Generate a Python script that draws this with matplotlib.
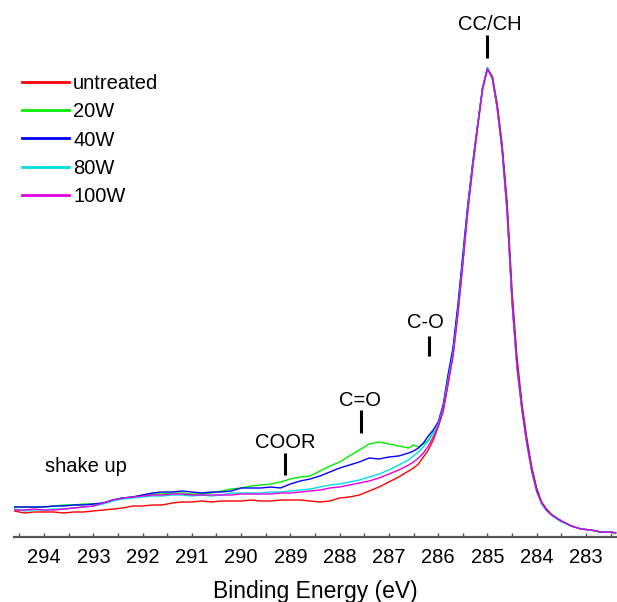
import matplotlib
matplotlib.use("Agg")
import matplotlib.pyplot as plt
import numpy as np

plt.rcParams['font.family'] = ['Liberation Sans', 'DejaVu Sans']

# Binding energy grid (eV)
energy = [294.6, 294.4, 294.2, 294.0, 293.8, 293.6, 293.4, 293.2, 293.0, 292.8,
          292.6, 292.4, 292.2, 292.0, 291.8, 291.6, 291.4, 291.2, 291.0, 290.8,
          290.6, 290.4, 290.2, 290.0, 289.8, 289.6, 289.4, 289.2, 289.0, 288.8,
          288.6, 288.4, 288.2, 288.0, 287.8, 287.6, 287.4, 287.2, 287.0, 286.8,
          286.6, 286.5, 286.4, 286.3, 286.2, 286.1, 286.0, 285.9, 285.8, 285.7,
          285.6, 285.5, 285.4, 285.3, 285.2, 285.1, 285.0, 284.9, 284.8, 284.7,
          284.6, 284.5, 284.4, 284.3, 284.2, 284.1, 284.0, 283.9, 283.8, 283.7,
          283.6, 283.5, 283.3, 283.1, 282.9, 282.7, 282.5, 282.4]

# Intensities (a.u.)
untreated = [26, 24, 25, 25, 25, 24, 25, 25, 26, 27,
             28, 29, 31, 31, 32, 32, 34, 35, 35, 36,
             35, 36, 36, 36, 37, 36, 36, 37, 37, 37,
             36, 35, 36, 39, 40, 42, 46, 50, 55, 60,
             66, 69, 73, 80, 87, 97, 110, 125, 152, 182,
             225, 275, 327, 370, 410, 448, 468, 461, 433, 392,
             335, 247, 180, 134, 99, 70, 49, 35, 28, 23,
             19, 16, 11, 8, 7, 5, 5, 4]
w20 = [30, 30, 30, 30, 31, 32, 32, 33, 33, 34,
       37, 39, 40, 42, 43, 43, 44, 44, 43, 43,
       44, 46, 48, 49, 51, 52, 53, 55, 58, 60,
       61, 66, 71, 75, 81, 87, 93, 95, 93, 91,
       89, 92, 90, 93, 97, 105, 113, 130, 160, 186,
       229, 279, 330, 373, 411, 449, 469, 460, 430, 388,
       328, 238, 172, 129, 95, 67, 47, 34, 27, 23,
       19, 16, 11, 8, 7, 5, 5, 4]
w40 = [30, 30, 30, 30, 31, 31, 32, 32, 33, 34,
       37, 39, 40, 42, 44, 45, 45, 46, 45, 44,
       45, 45, 46, 49, 49, 49, 50, 49, 53, 56,
       58, 61, 65, 69, 72, 75, 79, 78, 80, 81,
       84, 86, 89, 94, 101, 107, 115, 132, 162, 189,
       232, 282, 332, 374, 412, 449, 469, 459, 429, 387,
       327, 237, 172, 129, 95, 67, 47, 34, 27, 22,
       19, 16, 11, 8, 7, 5, 5, 4]
w80 = [28, 26, 27, 27, 28, 28, 29, 30, 31, 33,
       36, 38, 39, 40, 41, 41, 42, 42, 41, 42,
       41, 42, 44, 44, 44, 44, 45, 45, 46, 47,
       48, 50, 52, 53, 55, 57, 60, 63, 67, 72,
       77, 81, 85, 90, 96, 104, 113, 129, 157, 183,
       225, 275, 328, 371, 410, 448, 469, 458, 427, 384,
       323, 233, 168, 126, 92, 65, 45, 33, 26, 22,
       18, 15, 11, 8, 7, 5, 5, 4]
w100 = [27, 27, 28, 27, 27, 28, 29, 30, 31, 34,
        37, 39, 40, 41, 42, 42, 43, 43, 42, 42,
        42, 42, 42, 43, 43, 43, 43, 44, 44, 45,
        46, 47, 49, 50, 52, 54, 56, 59, 63, 67,
        72, 75, 79, 84, 91, 100, 111, 127, 154, 180,
        222, 272, 325, 369, 409, 447, 468, 459, 429, 387,
        326, 236, 171, 128, 94, 66, 46, 34, 27, 22,
        19, 16, 11, 8, 7, 5, 5, 4]

series = [untreated, w20, w40, w80, w100]
labels = ["untreated", "20W", "40W", "80W", "100W"]
colors = ["#ff0000", "#00ee00", "#0000ff", "#00e0e0", "#e000e0"]

# peak assignments: label, text position, tick position and extent
peak_labels = ["CC/CH", "C-O", "C=O", "COOR"]
peak_text_e = [284.96, 286.25, 287.59, 289.11]
peak_text_h = [512, 214, 136, 94]
peak_tick_e = [285.0, 286.18, 287.57, 289.11]
peak_tick = [(479, 502), (181, 201), (104, 127), (62, 84)]

fig = plt.figure(figsize=(6.17, 6.02), dpi=100)
ax = fig.add_axes([14 / 617, 65 / 602, 603 / 617, 537 / 602])

for y, lab, c in zip(series, labels, colors):
    ax.plot(energy, y, color=c, lw=1.0, label=lab)

for lab, te, th, e, (t0, t1) in zip(peak_labels, peak_text_e, peak_text_h,
                                     peak_tick_e, peak_tick):
    ax.text(te, th, lab, ha='center', va='center', fontsize=14.5)
    ax.plot([e, e], [t0, t1], color='black', lw=2.2, solid_capstyle='butt')

ax.text(293.98, 71, "shake up", ha='left', va='center', fontsize=14.5)

ax.set_xlim(294.61, 282.37)
ax.set_ylim(0, 537)
ax.set_xticks(np.arange(283, 295, 1))
ax.set_xticks(np.arange(282.5, 295, 0.5), minor=True)
ax.tick_params(axis='x', which='both', direction='in', length=3, width=1,
               color='#555555', labelsize=14.5, pad=8)
ax.set_yticks([])
for s in ['top', 'right', 'left']:
    ax.spines[s].set_visible(False)
ax.spines['bottom'].set_color('#555555')
ax.spines['bottom'].set_linewidth(1.6)
ax.set_xlabel("Binding Energy (eV)", fontsize=16.5, labelpad=9)

leg = ax.legend(loc='upper left', bbox_to_anchor=(22 / 617, 1 - 74 / 602),
                bbox_transform=fig.transFigure, frameon=False, fontsize=14.5,
                handlelength=2.34, handletextpad=0.2, labelspacing=0.46,
                borderpad=0, borderaxespad=0)
for h in leg.get_lines():
    h.set_linewidth(2)

fig.savefig("out.png", dpi=100)
